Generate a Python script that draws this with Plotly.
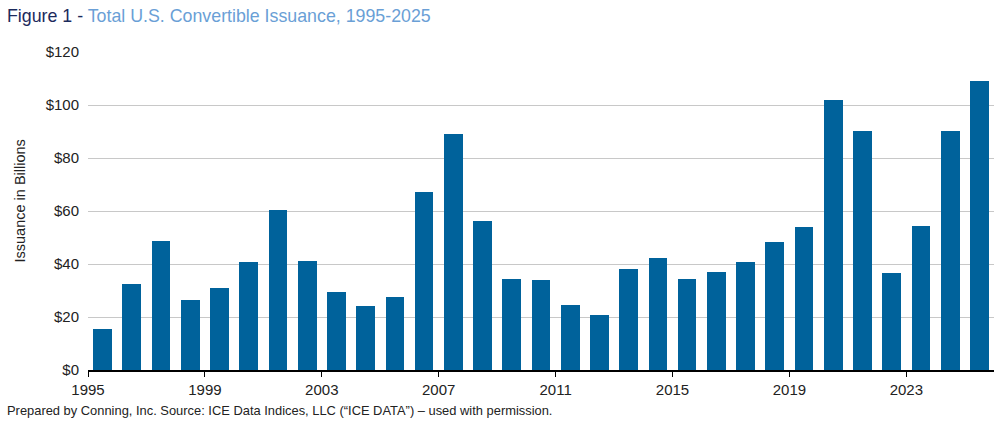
import plotly.graph_objects as go

years = list(range(1995, 2026))
issuance = [15.4, 32.4, 48.5, 26.6, 30.8, 40.8, 60.3, 41.2, 29.3, 24.0,
            27.4, 67.0, 89.1, 56.3, 34.2, 33.9, 24.7, 20.8, 38.0, 42.2,
            34.2, 36.9, 40.7, 48.3, 54.1, 101.9, 90.3, 36.5, 54.3, 90.2, 109.0]
tick_years = [1995, 1999, 2003, 2007, 2011, 2015, 2019, 2023]
y_ticks = [0, 20, 40, 60, 80, 100, 120]
y_tick_text = ["$0", "$20", "$40", "$60", "$80", "$100", "$120"]

title_dark = "Figure 1 -"
title_light = "Total U.S. Convertible Issuance, 1995-2025"
y_title = "Issuance in Billions"
footer = "Prepared by Conning, Inc. Source: ICE Data Indices, LLC (\u201cICE DATA\u201d) \u2013 used with permission."

FONT = "Liberation Sans"
W, H = 1000, 431
ML, MR, MT, MB = 88, 6, 52, 61
PW, PH = W - ML - MR, H - MT - MB


def px(x):
    return (x - ML) / PW


def py(y):
    return 1 - (y - MT) / PH


fig = go.Figure()
fig.add_trace(go.Bar(
    x=years, y=issuance, width=0.64,
    marker=dict(color="#00629b", line=dict(width=0)),
    showlegend=False,
))

fig.update_layout(
    width=W, height=H,
    margin=dict(l=ML, r=MR, t=MT, b=MB, autoexpand=False),
    paper_bgcolor="white", plot_bgcolor="white",
    font=dict(family=FONT, size=15, color="#222222"),
    bargap=0,
)
fig.update_xaxes(
    range=[1994.5, 2025.5],
    tickvals=[y - 0.5 for y in tick_years],
    ticktext=[str(y) for y in tick_years],
    ticks="outside", ticklen=5, tickcolor="black", tickwidth=1,
    showline=True, linecolor="black", linewidth=1.5,
    showgrid=False, zeroline=False, automargin=False,
    tickfont=dict(size=15, color="#222222"),
)
fig.update_yaxes(
    range=[0, 120],
    tickvals=y_ticks, ticktext=y_tick_text,
    showgrid=True, gridcolor="#c8c8c8", gridwidth=1,
    zeroline=False, showline=False, ticks="", automargin=False,
    ticklabelstandoff=8,
    tickfont=dict(size=15, color="#222222"),
)

fig.add_annotation(
    x=px(5), y=py(16.5), xref="paper", yref="paper", showarrow=False,
    xanchor="left", yanchor="middle",
    text=f"<span style='color:#1b2a5c'>{title_dark}</span> <span style='color:#6a9fd6'>{title_light}</span>",
    font=dict(family=FONT, size=17.8),
)
fig.add_annotation(
    x=px(20), y=py(201.5), xref="paper", yref="paper", showarrow=False,
    xanchor="center", yanchor="middle",
    textangle=-90, text=y_title,
    font=dict(family=FONT, size=14.5, color="#222222"),
)
fig.add_annotation(
    x=px(5), y=py(410.7), xref="paper", yref="paper", showarrow=False,
    xanchor="left", yanchor="middle",
    text=footer,
    font=dict(family=FONT, size=12.9, color="#222222"),
)

fig.write_html(
    "out.html",
    config={"displayModeBar": False},
    post_script="document.body.style.margin='0';document.body.style.overflow='hidden';",
)
